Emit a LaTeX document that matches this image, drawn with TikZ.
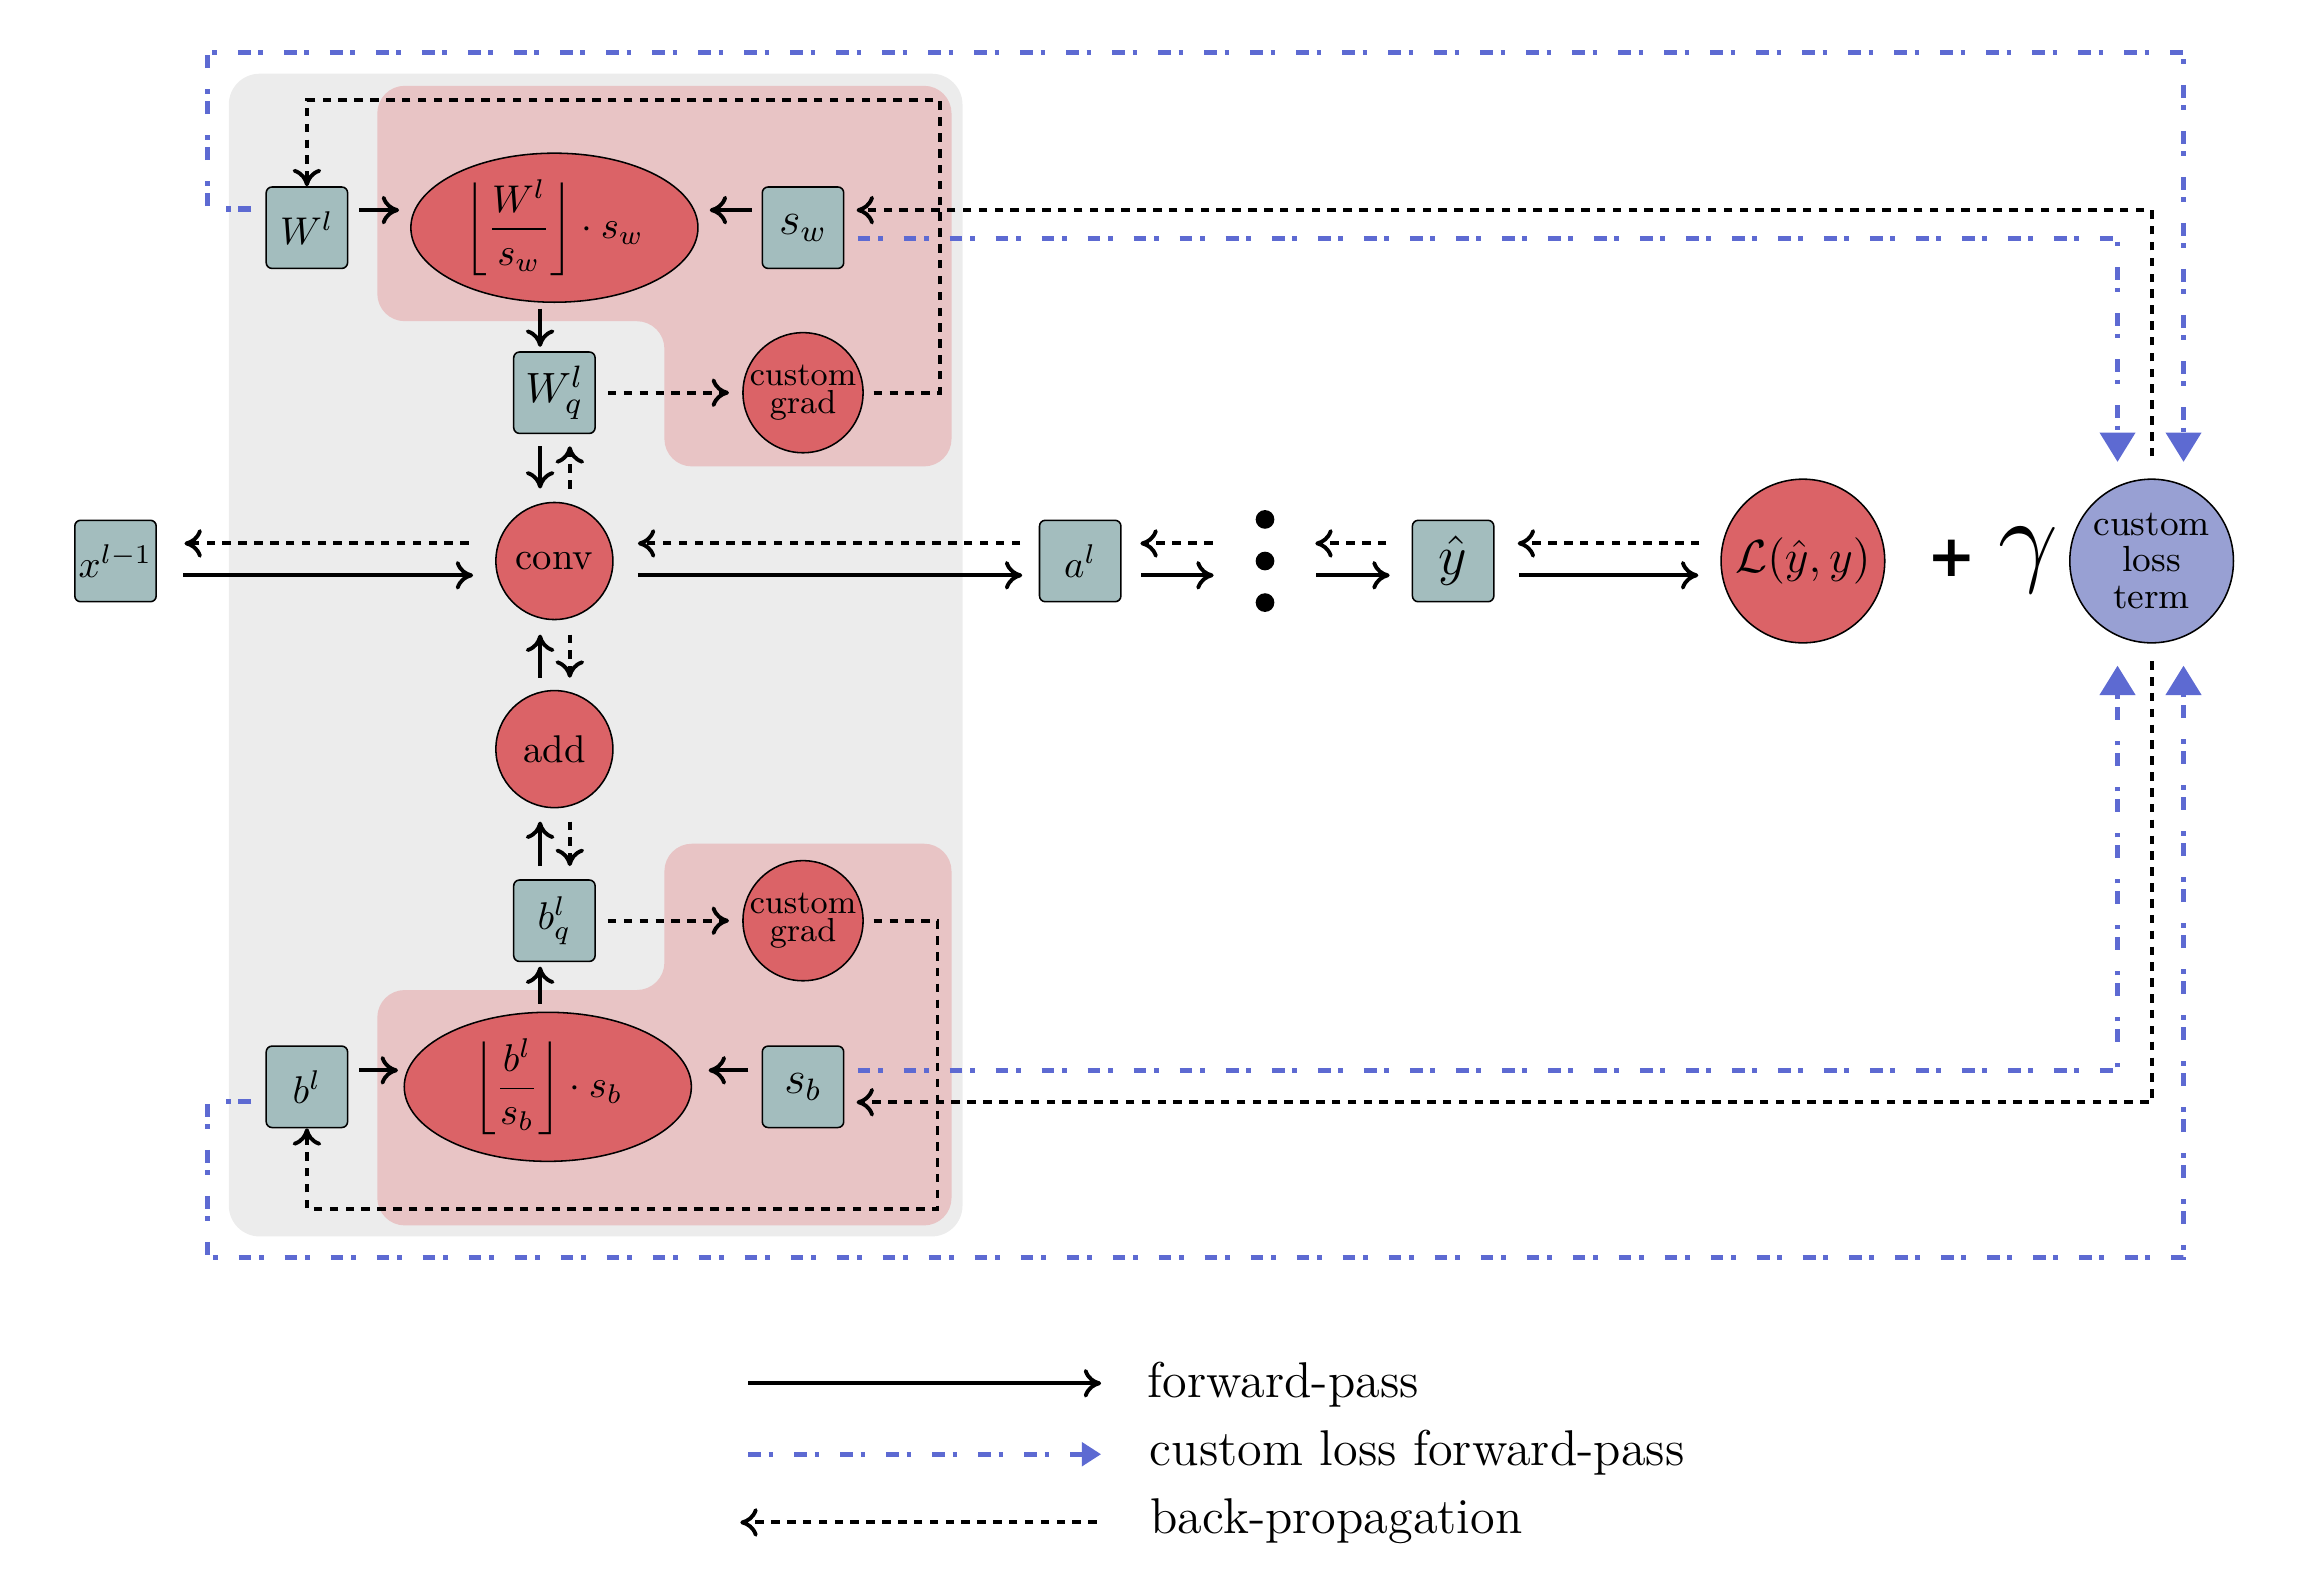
\documentclass[tikz,border=0pt]{standalone}
\usepackage{amsmath}
\usepackage{graphicx}
\usepackage{fontspec}
\newfontfamily\plusfont{DejaVu Sans}
\usetikzlibrary{arrows.meta,shapes.geometric}
\definecolor{VarGray}{HTML}{A3BDBE}
\definecolor{OpRed}{HTML}{DB6367}
\definecolor{QuantPink}{HTML}{E8C4C5}
\definecolor{LayerGray}{HTML}{ECECEC}
\definecolor{LossBlue}{HTML}{98A0D3}
\definecolor{CustBlue}{HTML}{5D6AD2}
\newcommand{\gradfont}{\fontsize{8.6}{7.4}\selectfont}
\newcommand{\termfont}{\fontsize{9.4}{9.5}\selectfont}
\newcommand{\legendfont}{\fontsize{13}{15}\selectfont}

\begin{document}
\begin{tikzpicture}[
    >={Computer Modern Rightarrow[length=4.5pt,width=7.4pt]},
    var/.style={draw, fill=VarGray, rounded corners=1.5pt, minimum width=0.74cm, minimum height=0.74cm, inner sep=1pt},
    op/.style={draw, circle, fill=OpRed, minimum size=1.064cm, inner sep=0pt, align=center},
    quant/.style={draw, ellipse, fill=OpRed, minimum width=2.61cm, minimum height=1.355cm, inner sep=0pt},
    fwd/.style={->, line width=1pt},
    back/.style={->, line width=1pt, dash pattern=on 2.2pt off 1.9pt},
    cust/.style={-{Triangle[length=7.6pt,width=9pt]}, CustBlue, line width=1.3pt, dash pattern=on 3.3pt off 2pt on 1.2pt off 5.4pt},
  ]
  \useasboundingbox (0,0) rectangle (21.118,-14.290);

  % layer and quantiser backgrounds
  \fill[LayerGray, rounded corners=0.28cm] (2.08,-0.67) rectangle (8.75,-11.24);
  \fill[QuantPink, rounded corners=0.25cm] (3.43,-0.78) -- (8.65,-0.78) -- (8.65,-4.24) -- (6.04,-4.24) -- (6.04,-2.92) -- (3.43,-2.92) -- cycle;
  \fill[QuantPink, rounded corners=0.25cm] (6.04,-7.67) -- (8.65,-7.67) -- (8.65,-11.14) -- (3.43,-11.14) -- (3.43,-9.00) -- (6.04,-9.00) -- cycle;

  % nodes
  \node[var] (xin) at (1.05,-5.10) {$x^{l-1}$};
  \node[var] (Wl) at (2.79,-2.07) {$W^l$};
  \node[quant] (Wsc) at (5.04,-2.07) {$\left\lfloor\dfrac{W^l}{s_w}\right\rfloor\cdot s_w$};
  \node[var, font=\large] (sw) at (7.30,-2.07) {$s_w$};
  \node[var, font=\fontsize{11}{13}\selectfont] (Wq) at (5.04,-3.57) {$W_q^l$};
  \node[op, font=\gradfont] (cgW) at (7.30,-3.57) {custom\\grad};
  \node[op] (conv) at (5.04,-5.10) {conv};
  \node[op] (add) at (5.04,-6.81) {add};
  \node[var] (bq) at (5.04,-8.37) {$b_q^l$};
  \node[op, font=\gradfont] (cgb) at (7.30,-8.37) {custom\\grad};
  \node[var] (bl) at (2.79,-9.88) {$b^l$};
  \node[quant] (bsc) at (4.98,-9.88) {$\left\lfloor\dfrac{b^l}{s_b}\right\rfloor\cdot s_b$};
  \node[var, font=\large] (sb) at (7.30,-9.88) {$s_b$};
  \node[var] (al) at (9.82,-5.10) {$a^l$};
  \node[minimum width=0.5cm, minimum height=1cm, inner sep=0pt] (dots) at (11.50,-5.10) {};
  \node[var, font=\Large] (yhat) at (13.21,-5.10) {$\hat{y}$};
  \node[op, minimum size=1.488cm, font=\large] (loss) at (16.39,-5.10) {$\mathcal{L}(\hat{y},y)$};
  \node (plus) at (17.74,-5.08) {\plusfont\bfseries\fontsize{15}{15}\selectfont +};
  \node (gam) at (18.44,-5.09) {\scalebox{2.7}{$\gamma$}};
  \node[op, fill=LossBlue, minimum size=1.488cm, font=\termfont] (clt) at (19.56,-5.10) {custom\\loss\\term};

  \foreach \dy in {-0.378,0,0.378}
    \fill ([yshift=\dy cm]dots.center) circle (0.085cm);

  % main row
  \draw[fwd, shorten <=0.24cm, shorten >=0.2cm] ([yshift=-0.13cm]xin.east) -- ([yshift=-0.13cm]conv.west);
  \draw[back, shorten <=0.24cm, shorten >=0.25cm] ([yshift=0.16cm]conv.west) -- ([yshift=0.16cm]xin.east);
  \draw[fwd, shorten <=0.22cm, shorten >=0.15cm] ([yshift=-0.13cm]conv.east) -- ([yshift=-0.13cm]al.west);
  \draw[back, shorten <=0.17cm, shorten >=0.22cm] ([yshift=0.16cm]al.west) -- ([yshift=0.16cm]conv.east);
  \draw[fwd, shorten <=0.18cm, shorten >=0.21cm] ([yshift=-0.13cm]al.east) -- ([yshift=-0.13cm]dots.west);
  \draw[back, shorten <=0.22cm, shorten >=0.17cm] ([yshift=0.16cm]dots.west) -- ([yshift=0.16cm]al.east);
  \draw[fwd, shorten <=0.21cm, shorten >=0.2cm] ([yshift=-0.13cm]dots.east) -- ([yshift=-0.13cm]yhat.west);
  \draw[back, shorten <=0.23cm, shorten >=0.2cm] ([yshift=0.16cm]yhat.west) -- ([yshift=0.16cm]dots.east);
  \draw[fwd, shorten <=0.22cm, shorten >=0.2cm] ([yshift=-0.13cm]yhat.east) -- ([yshift=-0.13cm]loss.west);
  \draw[back, shorten <=0.19cm, shorten >=0.21cm] ([yshift=0.16cm]loss.west) -- ([yshift=0.16cm]yhat.east);

  % column through conv
  \draw[fwd, shorten <=0.11cm, shorten >=0.12cm] ([xshift=-0.13cm]Wq.south) -- ([xshift=-0.13cm]conv.north);
  \draw[back, shorten <=0.12cm, shorten >=0.11cm] ([xshift=0.14cm]conv.north) -- ([xshift=0.14cm]Wq.south);
  \draw[fwd, shorten <=0.11cm, shorten >=0.13cm] ([xshift=-0.13cm]add.north) -- ([xshift=-0.13cm]conv.south);
  \draw[back, shorten <=0.13cm, shorten >=0.11cm] ([xshift=0.14cm]conv.south) -- ([xshift=0.14cm]add.north);
  \draw[fwd, shorten <=0.12cm, shorten >=0.12cm] ([xshift=-0.13cm]bq.north) -- ([xshift=-0.13cm]add.south);
  \draw[back, shorten <=0.12cm, shorten >=0.12cm] ([xshift=0.14cm]add.south) -- ([xshift=0.14cm]bq.north);

  % weight quantiser
  \draw[fwd, shorten <=0.1cm, shorten >=0.1cm] ([yshift=0.16cm]Wl.east) -- ([yshift=0.16cm]Wsc.west);
  \draw[fwd, shorten <=0.09cm, shorten >=0.1cm] ([yshift=0.16cm]sw.west) -- ([yshift=0.16cm]Wsc.east);
  \draw[fwd, shorten <=0.05cm, shorten >=0.04cm] ([xshift=-0.13cm]Wsc.south) -- ([xshift=-0.13cm]Wq.north);
  \draw[back, shorten <=0.11cm, shorten >=0.12cm] (Wq.east) -- (cgW.west);
  \draw[back, shorten <=0.09cm] (cgW.east) -- ++(0.69,0) |- ([yshift=0.78cm]Wl.north) -- (Wl.north);

  % bias quantiser
  \draw[fwd, shorten <=0.1cm, shorten >=0.05cm] ([yshift=0.15cm]bl.east) -- ([yshift=0.15cm]bsc.west);
  \draw[fwd, shorten <=0.12cm, shorten >=0.15cm] ([yshift=0.15cm]sb.west) -- ([yshift=0.15cm]bsc.east);
  \draw[fwd, shorten <=0.07cm, shorten >=0.04cm] ([xshift=-0.07cm]bsc.north) -- ([xshift=-0.13cm]bq.south);
  \draw[back, shorten <=0.11cm, shorten >=0.12cm] (bq.east) -- (cgb.west);
  \draw[back, shorten <=0.09cm] (cgb.east) -- ++(0.67,0) |- ([yshift=-0.73cm]bl.south) -- (bl.south);

  % custom loss term
  \draw[cust, shorten <=0.13cm] ([yshift=0.17cm]Wl.west) -| (1.89,-0.475) -| ([xshift=0.29cm,yshift=0.15cm]clt.north);
  \draw[cust, shorten <=0.12cm] ([yshift=-0.10cm]sw.east) -| ([xshift=-0.31cm,yshift=0.15cm]clt.north);
  \draw[back, shorten <=0.2cm, shorten >=0.11cm] (clt.north) |- ([yshift=0.16cm]sw.east);
  \draw[cust, shorten <=0.12cm] ([yshift=0.15cm]sb.east) -| ([xshift=-0.31cm,yshift=-0.2cm]clt.south);
  \draw[cust, shorten <=0.13cm] ([yshift=-0.13cm]bl.west) -| (1.89,-11.43) -| ([xshift=0.29cm,yshift=-0.2cm]clt.south);
  \draw[back, shorten <=0.16cm, shorten >=0.11cm] (clt.south) |- ([yshift=-0.14cm]sb.east);

  % legend
  \node[anchor=base west, font=\legendfont] (lgfwd) at (10.31,-12.70) {forward-pass};
  \node[anchor=base west, font=\legendfont] (lgcust) at (10.33,-13.32) {custom loss forward-pass};
  \node[anchor=base west, font=\legendfont] (lgback) at (10.335,-13.94) {back-propagation};
  \draw[fwd] ([xshift=-3.51cm,yshift=0.125cm]lgfwd.base west) -- ([xshift=-0.30cm,yshift=0.125cm]lgfwd.base west);
  \draw[cust, -{Triangle[length=5pt,width=6pt]}] ([xshift=-3.53cm,yshift=0.1cm]lgcust.base west) -- ([xshift=-0.32cm,yshift=0.1cm]lgcust.base west);
  \draw[back] ([xshift=-0.365cm,yshift=0.1cm]lgback.base west) -- ([xshift=-3.605cm,yshift=0.1cm]lgback.base west);
\end{tikzpicture}
\end{document}
